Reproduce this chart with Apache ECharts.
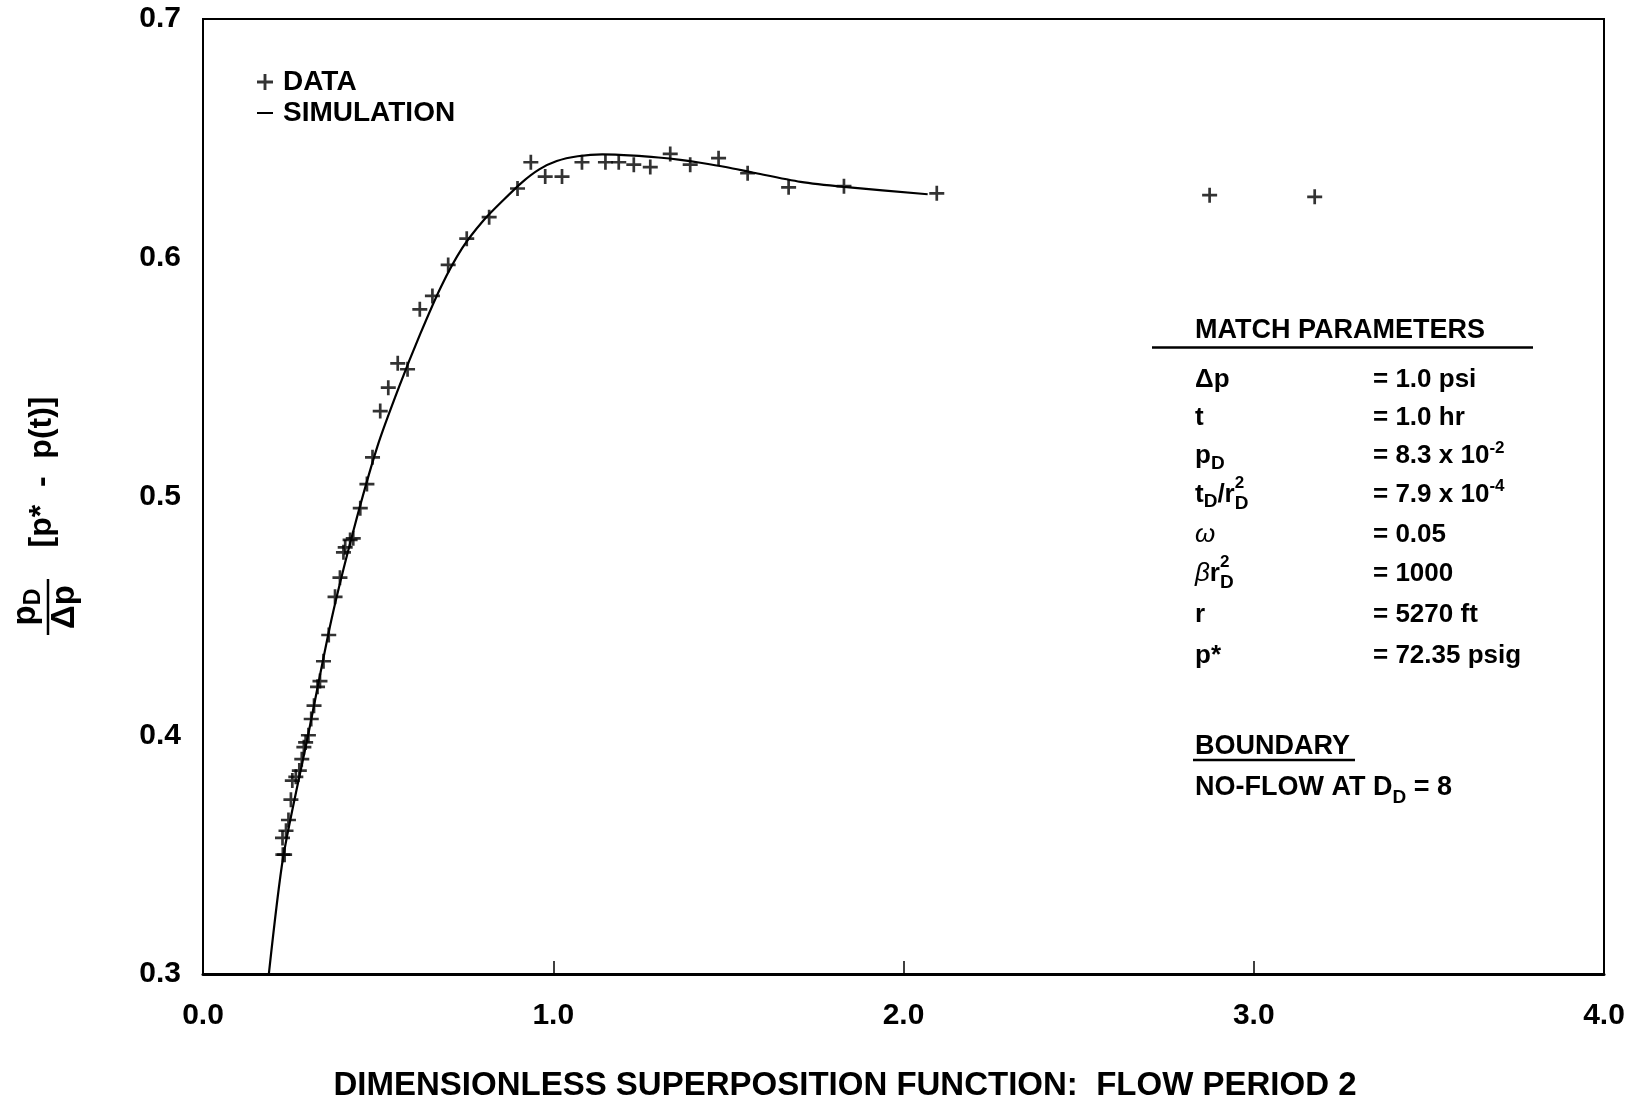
<!DOCTYPE html>
<html><head><meta charset="utf-8">
<script src="https://cdn.jsdelivr.net/npm/echarts@6/dist/echarts.min.js"></script>
<style>html,body{margin:0;padding:0;background:#fff;}#c{width:1633px;height:1103px;}</style>
</head><body><div id="c"></div>
<script>
// ---------- data ----------
const xTickLabels = ['0.0', '1.0', '2.0', '3.0', '4.0'];
const yTickLabels = ['0.3', '0.4', '0.5', '0.6', '0.7'];

const dataX = [0.228, 0.233, 0.227, 0.237, 0.244, 0.251, 0.255, 0.265, 0.275, 0.282,
  0.288, 0.293, 0.301, 0.309, 0.317, 0.327, 0.334, 0.344, 0.359, 0.377,
  0.391, 0.401, 0.406, 0.420, 0.429, 0.449, 0.468, 0.484, 0.506, 0.529,
  0.556, 0.584, 0.619, 0.655, 0.700, 0.753, 0.817, 0.898, 0.936, 0.977,
  1.025, 1.082, 1.149, 1.187, 1.230, 1.277, 1.334, 1.391, 1.472, 1.555,
  1.672, 1.830, 2.095, 2.874, 3.174];
const dataY = [0.350, 0.350, 0.357, 0.360, 0.3645, 0.373, 0.381, 0.3826, 0.3852, 0.390,
  0.395, 0.397, 0.400, 0.4068, 0.4124, 0.4203, 0.4227, 0.431, 0.442, 0.458,
  0.466, 0.4766, 0.4787, 0.4818, 0.4825, 0.4951, 0.5052, 0.5164, 0.5358, 0.5456,
  0.5558, 0.5533, 0.5784, 0.584, 0.597, 0.608, 0.617, 0.629, 0.640, 0.634,
  0.634, 0.640, 0.640, 0.640, 0.639, 0.638, 0.6435, 0.639, 0.6417, 0.6354,
  0.6295, 0.630, 0.627, 0.6262, 0.6255];

const simX = [0.188, 0.229, 0.300, 0.366, 0.430, 0.498, 0.560, 0.620, 0.680, 0.740,
  0.800, 0.860, 0.910, 0.960, 1.010, 1.070, 1.140, 1.230, 1.300, 1.363,
  1.420, 1.496, 1.572, 1.706, 1.830, 2.069];
const simY = [0.300, 0.349, 0.400, 0.448, 0.486, 0.521, 0.546, 0.568, 0.588, 0.604,
  0.6155, 0.6245, 0.6315, 0.6370, 0.6405, 0.6425, 0.6433, 0.6428, 0.642, 0.641,
  0.6398, 0.6379, 0.6356, 0.6318, 0.6297, 0.6266];

// ---------- helpers ----------
const FONT = '"Liberation Sans", Arial, Helvetica, sans-serif';
const mctx = document.createElement('canvas').getContext('2d');
function tw(t, size, weight, style) {
  mctx.font = (style || 'normal') + ' ' + (weight || 'bold') + ' ' + size + 'px ' + FONT;
  return mctx.measureText(t).width;
}
function txt(x, y, t, size, opts) {
  opts = opts || {};
  return {
    type: 'text', x: x, y: y, z: 100,
    style: {
      text: t, fill: '#000', fontFamily: FONT, fontSize: size,
      fontWeight: opts.w || 'bold', fontStyle: opts.it ? 'italic' : 'normal',
      textAlign: opts.align || 'left', textVerticalAlign: 'middle',
      align: opts.align || 'left', verticalAlign: 'middle'
    }
  };
}
function runs(x, y, parts, base) {
  const out = [];
  let cx = x;
  parts.forEach(p => {
    if (typeof p === 'string') p = { t: p };
    const s = p.s || base;
    const w = tw(p.t, s, p.w || 'bold', p.it ? 'italic' : 'normal');
    out.push(txt(cx, y + (p.dy || 0), p.t, s, { w: p.w, it: p.it }));
    if (!p.keep) cx += w;
  });
  return out;
}
function runsWidth(parts, base) {
  let w = 0;
  parts.forEach(p => {
    if (typeof p === 'string') p = { t: p };
    if (!p.keep) w += tw(p.t, p.s || base, p.w || 'bold', p.it ? 'italic' : 'normal');
  });
  return w;
}
function hline(x1, x2, y, w) {
  return { type: 'line', z: 100, shape: { x1: x1, y1: y, x2: x2, y2: y }, style: { stroke: '#000', lineWidth: w } };
}

const PLUS = 'path://M4.1,0H5.9V4.1H10V5.9H5.9V10H4.1V5.9H0V4.1H4.1Z';
const DASH = 'path://M0,0H20V0.01H0ZM0,8.7H20V11.3H0ZM0,19.99H20V20H0Z';

// ---------- graphic texts ----------
const G = [];
const LX = 1195, VX = 1373, PS = 26, SUB = 19, SUP = 17;
G.push(txt(LX, 331, 'MATCH PARAMETERS', 27));
G.push(hline(1152, 1533, 347.5, 2.5));
const rows = [
  [380, ['Δp'], ['= 1.0 psi']],
  [417.5, ['t'], ['= 1.0 hr']],
  [456, ['p', { t: 'D', s: SUB, dy: 8 }], ['= 8.3 x 10', { t: '-2', s: SUP, dy: -8 }]],
  [494.5, ['t', { t: 'D', s: SUB, dy: 7 }, '/r', { t: '2', s: SUP, dy: -11, keep: true }, { t: 'D', s: SUB, dy: 9 }],
    ['= 7.9 x 10', { t: '-4', s: SUP, dy: -8 }]],
  [535, [{ t: 'ω', it: true, w: 'normal' }], ['= 0.05']],
  [573.8, [{ t: 'β', it: true, w: 'normal' }, 'r', { t: '2', s: SUP, dy: -11, keep: true }, { t: 'D', s: SUB, dy: 9 }], ['= 1000']],
  [614.4, ['r'], ['= 5270 ft']],
  [656, ['p*'], ['= 72.35 psig']]
];
rows.forEach(r => {
  runs(LX, r[0], r[1], PS).forEach(e => G.push(e));
  runs(VX, r[0], r[2], PS).forEach(e => G.push(e));
});
G.push(txt(LX, 747, 'BOUNDARY', 27));
G.push(hline(1193, 1355, 760, 2.5));
runs(LX, 787.5, ['NO-FLOW AT D', { t: 'D', s: SUB, dy: 10 }, ' = 8'], 27).forEach(e => G.push(e));

// x axis title
G.push(txt(845, 1086, 'DIMENSIONLESS SUPERPOSITION FUNCTION:  FLOW PERIOD 2', 33, { align: 'center' }));

// y axis title (rotated 90deg counter-clockwise)
const YS = 33;
const yChildren = [];
const numParts = ['p', { t: 'D', s: 23, dy: 8 }];
const numW = runsWidth(numParts, YS);
runs(-numW / 2, -22, numParts, YS).forEach(e => yChildren.push(e));
yChildren.push({ type: 'line', shape: { x1: -28, y1: 0, x2: 28, y2: 0 }, style: { stroke: '#000', lineWidth: 2.5 } });
yChildren.push(txt(0, 17, 'Δp', YS, { align: 'center' }));
yChildren.push(txt(135, -6, '[p*  -  p(t)]', 32, { align: 'center' }));
G.push({ type: 'group', x: 48, y: 607, rotation: Math.PI / 2, children: yChildren });

// ---------- chart ----------
const chart = echarts.init(document.getElementById('c'), null, { renderer: 'canvas' });
chart.setOption({
  animation: false,
  backgroundColor: '#fff',
  grid: { left: 203, right: 29, top: 19, bottom: 129, show: true, borderColor: '#000', borderWidth: 2, backgroundColor: 'transparent' },
  legend: {
    orient: 'vertical', left: 257, top: 68, padding: 0, itemGap: 3,
    itemWidth: 16, itemHeight: 16,
    textStyle: { fontSize: 28, fontWeight: 'bold', color: '#000', fontFamily: FONT, lineHeight: 28, padding: [0, 0, 0, 5] },
    data: [{ name: 'DATA', icon: PLUS }, { name: 'SIMULATION', icon: DASH }]
  },
  xAxis: {
    type: 'value', min: 0, max: 4, interval: 1,
    axisLine: { show: true, onZero: false, lineStyle: { color: '#000', width: 3 } },
    axisTick: { show: true, inside: true, length: 13, lineStyle: { color: '#000', width: 1.5 } },
    splitLine: { show: false },
    axisLabel: { formatter: v => xTickLabels[Math.round(v)], fontSize: 30, fontWeight: 'bold', color: '#000', fontFamily: FONT, margin: 27 }
  },
  yAxis: {
    type: 'value', min: 0.3, max: 0.7, interval: 0.1,
    axisLine: { show: true, onZero: false, lineStyle: { color: '#000', width: 2 } },
    axisTick: { show: false },
    splitLine: { show: false },
    axisLabel: { formatter: v => yTickLabels[Math.round((v - 0.3) * 10)], fontSize: 30, fontWeight: 'bold', color: '#000', fontFamily: FONT, margin: 22 }
  },
  series: [
    {
      name: 'DATA', type: 'scatter', symbol: PLUS, symbolSize: 15,
      itemStyle: { color: '#000' },
      data: dataX.map((x, i) => [x, dataY[i]])
    },
    {
      name: 'SIMULATION', type: 'line', smooth: 0.25, symbol: 'none', showSymbol: false,
      lineStyle: { color: '#000', width: 2.2 }, itemStyle: { color: '#000' },
      data: simX.map((x, i) => [x, simY[i]])
    }
  ],
  graphic: G
});
</script></body></html>
